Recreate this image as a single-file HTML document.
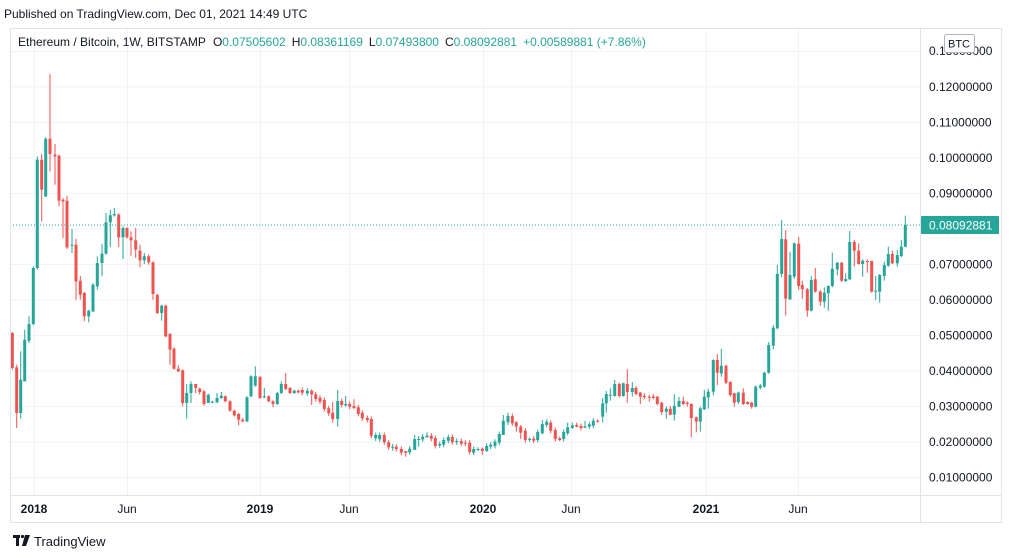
<!DOCTYPE html>
<html><head><meta charset="utf-8"><style>
body{margin:0;width:1012px;height:558px;background:#fff;overflow:hidden;font-family:"Liberation Sans",sans-serif;}
svg{position:absolute;left:0;top:0}
</style></head><body>
<svg id="s" width="1012" height="558" xmlns="http://www.w3.org/2000/svg" font-family="Liberation Sans, sans-serif"></svg>
<script>
var G='#26a69a',R='#ef5350';
var z1=[[37,915,1020,912,1025],[50,1018,1155,1010,1200],[62,1155,1055,970,1172],[74,1060,935,905,962],[87,938,888,865,945],[100,888,720,715,892],[112,720,395,385,725],[125,395,485,378,580],[137,505,332,328,507],[150,332,378,138,430],[165,380,385,348,470],[177,383,518,380,535],[189,515,520,510,630],[201,518,658,503,663],[216,652,650,603,675],[228,650,760,632,815],[241,758,800,744,815],[253,795,865,792,880],[266,865,848,845,883],[279,850,770,765,852],[292,775,705,685,785],[306,705,677,648,745],[318,677,583,555,680],[331,583,562,545,657],[343,562,558,540,566],[356,560,628,556,657],[369,628,600,595,693],[381,600,628,598,632],[393,628,637,610,683],[407,637,665,600,690],[420,668,697,650,718],[433,697,685,675,708],[446,685,703,680,710],[459,703,798,700,815],[472,800,855,798,858],[485,855,833,830,878],[497,833,925,830,928],[510,918,965,915,1010],[522,962,1022,958,1025],[535,1022,1030,1012,1032],[548,1027,1125,1024,1135],[560,1125,1095,1068,1172],[573,1095,1068,1060,1125],[587,1068,1080,1068,1095],[599,1082,1092,1079,1100],[612,1090,1128,1087,1133],[625,1125,1100,1097,1125],[637,1123,1121,1118,1126],[651,1123,1110,1095,1126],[664,1110,1103,1092,1113],[676,1105,1120,1102,1123],[690,1120,1148,1117,1151],[703,1148,1162,1145,1165],[716,1158,1175,1155,1192],[728,1175,1180,1170,1183],[741,1180,1108,1105,1183],[753,1105,1045,1042,1108],[766,1073,1045,1015,1076],[780,1047,1110,1044,1113],[793,1108,1105,1080,1111],[806,1105,1120,1102,1123],[819,1120,1128,1117,1138],[832,1128,1095,1092,1131],[844,1095,1068,1060,1098],[857,1068,1083,1035,1086],[870,1080,1095,1077,1098],[883,1095,1088,1085,1098],[895,1088,1093,1085,1096]];
var z2=[[7,150,158],[22,160,152],[35,152,163,148,195],[47,163,177],[60,173,185],[73,180,207],[86,205,220],[98,218,237,186,248],[113,237,183,150,260],[125,183,195],[137,196,192,168,200],[149,192,200],[162,198,204,178,208],[175,202,222],[187,218,235],[202,234,240],[214,237,287],[227,295,285],[239,298,285],[253,285,307],[266,307,322],[278,322,320,312,332],[289,320,327],[304,327,338],[317,333,338,333,350],[329,337,326],[344,330,297,285,330],[356,297,297,288,320],[368,298,290],[381,292,287,277,292],[394,287,296],[406,294,318],[419,316,312],[431,314,300],[445,302,291],[457,291,307],[470,307,303],[484,303,311],[496,308,311],[509,308,336],[521,338,327],[534,328,327,322,333],[547,326,333,322,345],[560,333,318,310,336],[572,320,314],[585,318,305],[598,308,282],[610,285,242,225,285],[624,247,228,218,255],[637,228,250],[649,247,260,243,275],[662,260,278,255,297],[676,272,300],[689,300,296,293,305],[701,296,302],[713,300,276],[727,280,252,240,283],[740,255,245],[752,248,272],[766,270,297],[779,295,300,290,303],[791,297,276],[803,280,262,248,285],[817,264,256,248,266],[830,255,260,248,262],[843,258,264],[855,263,259,242,265],[868,260,253],[880,257,242],[893,242,244,238,248]];
var z3=[[8,650,610,595,668],[19,610,582,573,638],[31,584,584,565,602],[44,588,552,540,590],[58,552,588,548,592],[70,588,550,548,590],[82,552,576,508,608],[97,576,564,546,590],[108,564,582,558,586],[121,578,590,576,612],[133,588,592,580,598],[148,590,593,584,605],[160,590,594,582,598],[172,590,612,588,616],[185,608,636,605,645],[199,635,626,620,656],[211,626,644,618,646],[223,644,618,582,662],[237,620,603,590,622],[250,603,612,590,616],[262,608,612,604,620],[274,612,654,610,712],[289,652,665,650,697],[301,665,625,620,695],[313,628,590,570,630],[325,592,575,566,626],[340,575,480,478,586],[352,480,518,462,555],[364,520,497,447,530],[378,497,548,494,552],[391,546,585,544,590],[403,580,608,578,620],[415,606,578,575,612],[430,578,612,565,615],[443,606,612,604,614],[455,608,620,606,626],[467,620,560,556,622],[481,563,557,552,568],[493,560,518,515,563],[506,518,435,426,521],[520,437,383,375,448],[532,385,222,195,388],[545,222,117,60,232],[557,118,296,90,347],[570,298,225,155,300],[583,230,130,128,237],[596,131,258,111,270],[607,255,268,242,297],[622,268,332,264,350],[634,332,240,228,334],[646,238,275,204,278],[661,275,305,270,318],[673,305,278,262,323],[685,280,258,256,332],[697,258,206,158,262],[712,208,188,186,226],[725,188,242,186,246],[737,243,237,220,246],[749,238,126,93,240],[763,126,152,120,200],[776,152,192,130,194],[788,192,182,178,230],[802,183,184,178,218],[815,183,275,182,278],[827,275,272,228,300],[839,275,225,222,308],[853,228,195,185,242],[865,197,162,140,200],[877,162,190,152,192],[892,190,165,150,200],[904,168,140,120,172],[916,140,75,47,142]];
var h='';
var vg=[34,127,260,349,483,571,706,798];
vg.forEach(function(x){h+='<line x1="'+x+'.5" y1="28" x2="'+x+'.5" y2="495" stroke="#f0f3fa"/>';});
var labels=[];
for(var k=1;k<=13;k++){var y=442-(k-2)*35.5;h+='<line x1="10" y1="'+y+'" x2="920" y2="'+y+'" stroke="#f0f3fa"/>';labels.push([y,'0.'+(k<10?'0'+k:k)+'000000']);}
function add(arr,ox,oy){arr.forEach(function(c){var x=ox+c[0]/3,o=oy+c[1]/3,cl=oy+c[2]/3;var hi=c.length>3?oy+c[3]/3:Math.min(o,cl)-2.5,lo=c.length>3?oy+c[4]/3:Math.max(o,cl)+2.5;var col=cl<=o?G:R;var t=Math.min(o,cl),hh=Math.max(Math.abs(o-cl),1);h+='<line x1="'+x.toFixed(1)+'" y1="'+hi.toFixed(1)+'" x2="'+x.toFixed(1)+'" y2="'+lo.toFixed(1)+'" stroke="'+col+'" stroke-width="1"/>';h+='<rect x="'+(x-1.5).toFixed(1)+'" y="'+t.toFixed(1)+'" width="3" height="'+hh.toFixed(1)+'" fill="'+col+'"/>';});}
add(z1,0,28);add(z2,300,340);add(z3,600,200);
h+='<line x1="10" y1="225" x2="920" y2="225" stroke="#26a69a" stroke-dasharray="1,2"/>';
h+='<rect x="10.5" y="28.5" width="991" height="494" fill="none" stroke="#e0e3eb"/>';
h+='<line x1="920.5" y1="28" x2="920.5" y2="522" stroke="#e0e3eb"/><line x1="10" y1="495.5" x2="1002" y2="495.5" stroke="#e0e3eb"/>';
labels.forEach(function(l){if(l[0]>60&&l[0]<490&&Math.abs(l[0]-225)>12)h+='<text x="929" y="'+(l[0]+4)+'" font-size="12" fill="#131722">'+l[1]+'</text>';});
h+='<text x="929" y="55" font-size="12" fill="#131722">0.13000000</text>';
h+='<rect x="944.5" y="34.5" width="30" height="18" rx="2" fill="#fff" stroke="#b2b5be"/><text x="959" y="47.5" font-size="11" fill="#131722" text-anchor="middle">BTC</text>';
h+='<rect x="921" y="216" width="78" height="18" rx="1" fill="#26a69a"/><text x="929" y="229.5" font-size="12" fill="#fff">0.08092881</text>';
[[34,'2018'],[127,'Jun'],[260,'2019'],[349,'Jun'],[483,'2020'],[571,'Jun'],[706,'2021'],[798,'Jun']].forEach(function(t){h+='<text x="'+t[0]+'" y="513" font-size="12" fill="#131722" text-anchor="middle"'+(t[1].length==4?' font-weight="bold"':'')+'>'+t[1]+'</text>';});
h+='<text x="4" y="18" font-size="12" fill="#131722">Published on TradingView.com, Dec 01, 2021 14:49 UTC</text>';
h+='<text x="18" y="46" font-size="12" fill="#131722">Ethereum / Bitcoin, 1W, BITSTAMP  <tspan dx="4">O</tspan><tspan fill="#26a69a">0.07505602</tspan><tspan dx="6">H</tspan><tspan fill="#26a69a">0.08361169</tspan><tspan dx="6">L</tspan><tspan fill="#26a69a">0.07493800</tspan><tspan dx="6">C</tspan><tspan fill="#26a69a">0.08092881</tspan><tspan dx="6" fill="#26a69a">+0.00589881 (+7.86%)</tspan></text>';
h+='<rect x="13" y="535" width="7" height="3" fill="#131722"/><rect x="16" y="535" width="3" height="11" fill="#131722"/><circle cx="22.5" cy="536.5" r="1.6" fill="#131722"/><path d="M25 535 L30 535 L26 546 L22 546 Z" fill="#131722"/>';
h+='<text x="34" y="546" font-size="13" fill="#131722">TradingView</text>';
document.getElementById('s').innerHTML=h;
</script>
</body></html>
